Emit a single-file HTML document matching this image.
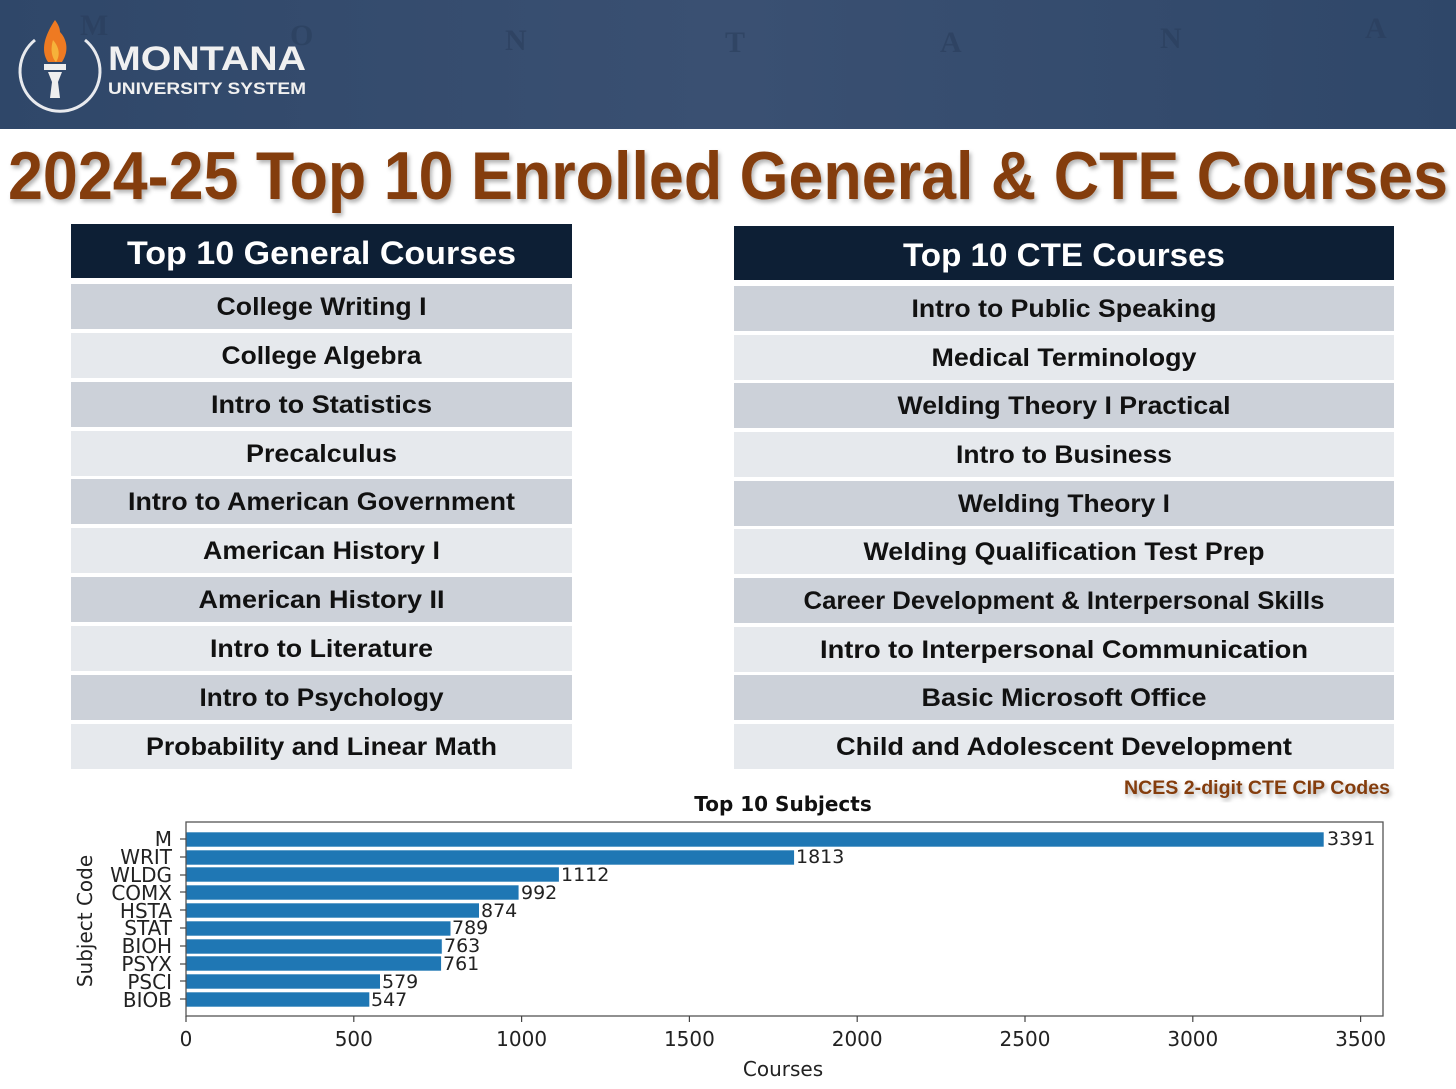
<!DOCTYPE html>
<html><head><meta charset="utf-8"><style>
html,body{margin:0;padding:0;background:#fff;}
svg{display:block;}
</style></head><body>
<svg width="1456" height="1089" viewBox="0 0 1456 1089" xmlns="http://www.w3.org/2000/svg" font-family="Liberation Sans, sans-serif">
<defs>
<linearGradient id="bn" x1="0" y1="0" x2="1" y2="0">
<stop offset="0" stop-color="#2f4769"/><stop offset="0.5" stop-color="#3a5072"/><stop offset="1" stop-color="#2f4769"/>
</linearGradient>
<filter id="sh" x="-5%" y="-5%" width="110%" height="120%"><feDropShadow dx="2" dy="3" stdDeviation="2" flood-color="#000" flood-opacity="0.3"/></filter>
</defs>
<rect x="0" y="0" width="1456" height="129" fill="url(#bn)"/>
<g fill="#2a3e5c" font-family="Liberation Serif, serif" font-weight="bold" font-size="30" opacity="0.6">
<text x="80" y="35">M</text><text x="290" y="45">O</text><text x="505" y="50">N</text><text x="725" y="52">T</text><text x="940" y="52">A</text><text x="1160" y="48">N</text><text x="1365" y="38">A</text>
</g>
<!-- logo -->
<path d="M35 40 A40 40 0 1 0 85 40" fill="none" stroke="#e8eaee" stroke-width="3"/>
<path d="M55 20 C45 35 40 50 48 62 L62 62 C70 50 66 38 60 32 C60 28 58 24 55 20Z" fill="#ee7a22"/>
<path d="M53 40 C50 50 52 58 56 62 C60 56 60 48 53 40Z" fill="#f6b23a"/>
<rect x="44" y="64" width="22" height="6" fill="#eee"/>
<path d="M48 72 L62 72 L58 82 L60 98 L50 98 L52 82Z" fill="#eee"/>
<text x="108" y="70" fill="#f0f0f0" font-size="34" font-weight="bold" textLength="198" lengthAdjust="spacingAndGlyphs">MONTANA</text>
<text x="108" y="94" fill="#f0f0f0" font-size="17" font-weight="bold" textLength="198" lengthAdjust="spacingAndGlyphs">UNIVERSITY SYSTEM</text>
<!-- title -->
<text x="8" y="199" fill="#843c0c" font-size="68" font-weight="bold" textLength="1440" lengthAdjust="spacingAndGlyphs" filter="url(#sh)">2024-25 Top 10 Enrolled General &amp; CTE Courses</text>
<!-- left table -->
<rect x="71" y="224" width="501" height="54" fill="#0d1f35"/>
<text x="321.5" y="264" text-anchor="middle" fill="#fff" font-size="32" font-weight="bold" textLength="389" lengthAdjust="spacingAndGlyphs">Top 10 General Courses</text>
<g font-size="25" font-weight="bold" fill="#111" text-anchor="middle">
<rect x="71" y="284" width="501" height="45" fill="#ccd1d9"/>
<rect x="71" y="333" width="501" height="45" fill="#e6e9ed"/>
<rect x="71" y="382" width="501" height="45" fill="#ccd1d9"/>
<rect x="71" y="431" width="501" height="45" fill="#e6e9ed"/>
<rect x="71" y="479" width="501" height="45" fill="#ccd1d9"/>
<rect x="71" y="528" width="501" height="45" fill="#e6e9ed"/>
<rect x="71" y="577" width="501" height="45" fill="#ccd1d9"/>
<rect x="71" y="626" width="501" height="45" fill="#e6e9ed"/>
<rect x="71" y="675" width="501" height="45" fill="#ccd1d9"/>
<rect x="71" y="724" width="501" height="45" fill="#e6e9ed"/>
<text x="321.5" y="315" textLength="210" lengthAdjust="spacingAndGlyphs">College Writing I</text>
<text x="321.5" y="364" textLength="200" lengthAdjust="spacingAndGlyphs">College Algebra</text>
<text x="321.5" y="413" textLength="221" lengthAdjust="spacingAndGlyphs">Intro to Statistics</text>
<text x="321.5" y="462" textLength="151" lengthAdjust="spacingAndGlyphs">Precalculus</text>
<text x="321.5" y="510" textLength="387" lengthAdjust="spacingAndGlyphs">Intro to American Government</text>
<text x="321.5" y="559" textLength="237" lengthAdjust="spacingAndGlyphs">American History I</text>
<text x="321.5" y="608" textLength="246" lengthAdjust="spacingAndGlyphs">American History II</text>
<text x="321.5" y="657" textLength="223" lengthAdjust="spacingAndGlyphs">Intro to Literature</text>
<text x="321.5" y="706" textLength="244" lengthAdjust="spacingAndGlyphs">Intro to Psychology</text>
<text x="321.5" y="755" textLength="351" lengthAdjust="spacingAndGlyphs">Probability and Linear Math</text>
</g>
<!-- right table -->
<rect x="734" y="226" width="660" height="54" fill="#0d1f35"/>
<text x="1064" y="266" text-anchor="middle" fill="#fff" font-size="32" font-weight="bold" textLength="322" lengthAdjust="spacingAndGlyphs">Top 10 CTE Courses</text>
<g font-size="25" font-weight="bold" fill="#111" text-anchor="middle">
<rect x="734" y="286" width="660" height="45" fill="#ccd1d9"/>
<rect x="734" y="335" width="660" height="45" fill="#e6e9ed"/>
<rect x="734" y="383" width="660" height="45" fill="#ccd1d9"/>
<rect x="734" y="432" width="660" height="45" fill="#e6e9ed"/>
<rect x="734" y="481" width="660" height="45" fill="#ccd1d9"/>
<rect x="734" y="529" width="660" height="45" fill="#e6e9ed"/>
<rect x="734" y="578" width="660" height="45" fill="#ccd1d9"/>
<rect x="734" y="627" width="660" height="45" fill="#e6e9ed"/>
<rect x="734" y="675" width="660" height="45" fill="#ccd1d9"/>
<rect x="734" y="724" width="660" height="45" fill="#e6e9ed"/>
<text x="1064" y="317" textLength="305" lengthAdjust="spacingAndGlyphs">Intro to Public Speaking</text>
<text x="1064" y="366" textLength="265" lengthAdjust="spacingAndGlyphs">Medical Terminology</text>
<text x="1064" y="414" textLength="333" lengthAdjust="spacingAndGlyphs">Welding Theory I Practical</text>
<text x="1064" y="463" textLength="216" lengthAdjust="spacingAndGlyphs">Intro to Business</text>
<text x="1064" y="512" textLength="212" lengthAdjust="spacingAndGlyphs">Welding Theory I</text>
<text x="1064" y="560" textLength="401" lengthAdjust="spacingAndGlyphs">Welding Qualification Test Prep</text>
<text x="1064" y="609" textLength="521" lengthAdjust="spacingAndGlyphs">Career Development &amp; Interpersonal Skills</text>
<text x="1064" y="658" textLength="488" lengthAdjust="spacingAndGlyphs">Intro to Interpersonal Communication</text>
<text x="1064" y="706" textLength="285" lengthAdjust="spacingAndGlyphs">Basic Microsoft Office</text>
<text x="1064" y="755" textLength="456" lengthAdjust="spacingAndGlyphs">Child and Adolescent Development</text>
</g>
<text x="1124" y="794" fill="#843c0c" font-size="19" font-weight="bold" textLength="266" lengthAdjust="spacingAndGlyphs" filter="url(#sh)">NCES 2-digit CTE CIP Codes</text>
<!-- chart -->
<text x="783" y="811" text-anchor="middle" font-family="DejaVu Sans, sans-serif" font-size="20" font-weight="bold" fill="#111">Top 10 Subjects</text>
<g fill="#1f77b4" stroke="#fff" stroke-width="0.6">
<rect x="186" y="832" width="1138" height="15"/>
<rect x="186" y="850" width="608.4" height="15"/>
<rect x="186" y="867" width="373.2" height="15"/>
<rect x="186" y="885" width="332.9" height="15"/>
<rect x="186" y="903" width="293.3" height="15"/>
<rect x="186" y="921" width="264.8" height="15"/>
<rect x="186" y="939" width="256.1" height="15"/>
<rect x="186" y="956" width="255.4" height="15"/>
<rect x="186" y="974" width="194.3" height="15"/>
<rect x="186" y="992" width="183.6" height="15"/>
</g>
<rect x="186" y="822" width="1197" height="194" fill="none" stroke="#555" stroke-width="1.3"/>
<g font-family="DejaVu Sans, sans-serif" font-size="19" fill="#222">
<text x="1327" y="845">3391</text>
<text x="796" y="863">1813</text>
<text x="561" y="881">1112</text>
<text x="521" y="899">992</text>
<text x="481" y="917">874</text>
<text x="452" y="934">789</text>
<text x="444" y="952">763</text>
<text x="443" y="970">761</text>
<text x="382" y="988">579</text>
<text x="371" y="1006">547</text>
</g>
<g font-family="DejaVu Sans, sans-serif" font-size="20" fill="#222" text-anchor="end">
<text x="172" y="846">M</text>
<text x="172" y="864">WRIT</text>
<text x="172" y="882">WLDG</text>
<text x="172" y="900">COMX</text>
<text x="172" y="918">HSTA</text>
<text x="172" y="935">STAT</text>
<text x="172" y="953">BIOH</text>
<text x="172" y="971">PSYX</text>
<text x="172" y="989">PSCI</text>
<text x="172" y="1007">BIOB</text>
</g>
<g stroke="#444" stroke-width="1.2">
<line x1="180" y1="839" x2="186" y2="839"/><line x1="180" y1="857" x2="186" y2="857"/><line x1="180" y1="875" x2="186" y2="875"/><line x1="180" y1="892" x2="186" y2="892"/><line x1="180" y1="910" x2="186" y2="910"/><line x1="180" y1="928" x2="186" y2="928"/><line x1="180" y1="946" x2="186" y2="946"/><line x1="180" y1="964" x2="186" y2="964"/><line x1="180" y1="981" x2="186" y2="981"/><line x1="180" y1="999" x2="186" y2="999"/>
<line x1="186" y1="1016" x2="186" y2="1022"/><line x1="353.8" y1="1016" x2="353.8" y2="1022"/><line x1="521.6" y1="1016" x2="521.6" y2="1022"/><line x1="689.4" y1="1016" x2="689.4" y2="1022"/><line x1="857.2" y1="1016" x2="857.2" y2="1022"/><line x1="1025" y1="1016" x2="1025" y2="1022"/><line x1="1192.8" y1="1016" x2="1192.8" y2="1022"/><line x1="1360.6" y1="1016" x2="1360.6" y2="1022"/>
</g>
<g font-family="DejaVu Sans, sans-serif" font-size="20" fill="#222" text-anchor="middle">
<text x="186" y="1046">0</text><text x="353.8" y="1046">500</text><text x="521.6" y="1046">1000</text><text x="689.4" y="1046">1500</text><text x="857.2" y="1046">2000</text><text x="1025" y="1046">2500</text><text x="1192.8" y="1046">3000</text><text x="1360.6" y="1046">3500</text>
<text x="783" y="1076">Courses</text>
<text transform="translate(92,921) rotate(-90)">Subject Code</text>
</g>
</svg>
</body></html>
